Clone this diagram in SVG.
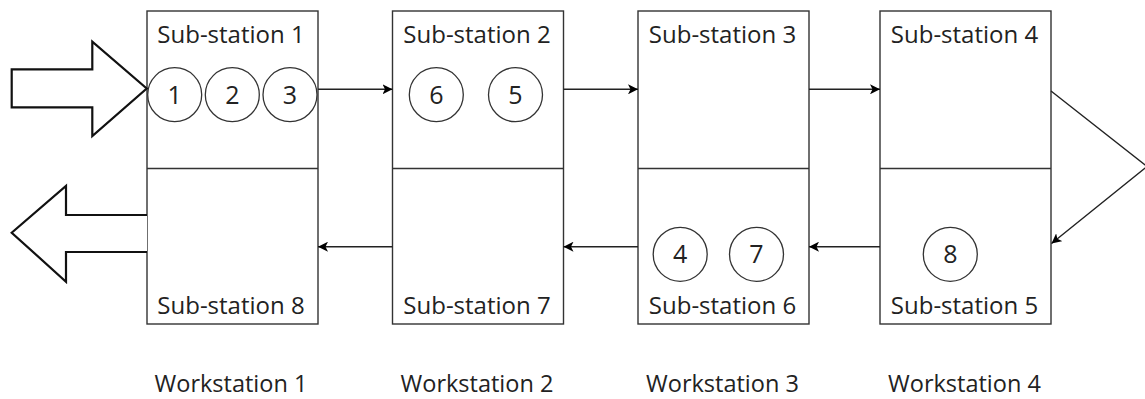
<svg xmlns="http://www.w3.org/2000/svg" width="1145" height="399" viewBox="0 0 1145 399">
<defs>
<marker id="ah" markerWidth="12" markerHeight="10" refX="10" refY="5" orient="auto" markerUnits="userSpaceOnUse">
<path d="M0,0 L10,5 L0,10 L2.5,5 Z" fill="#000"/>
</marker>
<style>
.box{fill:#fff;stroke:#333;stroke-width:1.4}
.div{stroke:#333;stroke-width:1.4}
.c{fill:#fff;stroke:#333;stroke-width:1.3}
.t{font-family:"Open Sans","Noto Sans",sans-serif;font-size:24px;fill:#222;text-anchor:middle}
.w{font-family:"Open Sans","Noto Sans",sans-serif;font-size:23.5px;fill:#222;text-anchor:middle}
.n{font-family:"Open Sans","Noto Sans",sans-serif;font-size:25px;fill:#222;text-anchor:middle}
.e{fill:none;stroke:#222;stroke-width:1.4;marker-end:url(#ah)}
.big{fill:#fff;stroke:#111;stroke-width:2.2;stroke-linejoin:miter}
</style>
</defs>
<rect width="1145" height="399" fill="#fff"/>

<g id="ws1">
<rect class="box" x="147" y="11" width="171" height="313"/>
<line class="div" x1="147" y1="168.5" x2="318" y2="168.5"/>
<text class="t" x="231" y="43">Sub-station 1</text>
<text class="t" x="231" y="313.5">Sub-station 8</text>
<text class="w" x="231" y="392">Workstation 1</text>
<circle class="c" cx="174.7" cy="94.7" r="27"/>
<text class="n" x="174.7" y="103.5">1</text>
<circle class="c" cx="232.3" cy="94.7" r="27"/>
<text class="n" x="232.3" y="103.5">2</text>
<circle class="c" cx="290" cy="94.7" r="27"/>
<text class="n" x="290" y="103.5">3</text>
</g>

<g id="ws2">
<rect class="box" x="392.5" y="11" width="171" height="313"/>
<line class="div" x1="392.5" y1="168.5" x2="563.5" y2="168.5"/>
<text class="t" x="477" y="43">Sub-station 2</text>
<text class="t" x="477" y="313.5">Sub-station 7</text>
<text class="w" x="477" y="392">Workstation 2</text>
<circle class="c" cx="436.3" cy="94.7" r="27"/>
<text class="n" x="436.3" y="103.5">6</text>
<circle class="c" cx="515.5" cy="94.7" r="27"/>
<text class="n" x="515.5" y="103.5">5</text>
</g>

<g id="ws3">
<rect class="box" x="638" y="11" width="171" height="313"/>
<line class="div" x1="638" y1="168.5" x2="809" y2="168.5"/>
<text class="t" x="722.5" y="43">Sub-station 3</text>
<text class="t" x="722.5" y="313.5">Sub-station 6</text>
<text class="w" x="722.5" y="392">Workstation 3</text>
<circle class="c" cx="680.2" cy="254.3" r="27"/>
<text class="n" x="680.2" y="263">4</text>
<circle class="c" cx="756.5" cy="254.3" r="27"/>
<text class="n" x="756.5" y="263">7</text>
</g>

<g id="ws4">
<rect class="box" x="880" y="11" width="171" height="313"/>
<line class="div" x1="880" y1="168.5" x2="1051" y2="168.5"/>
<text class="t" x="964.5" y="43">Sub-station 4</text>
<text class="t" x="964.5" y="313.5">Sub-station 5</text>
<text class="w" x="964.5" y="392">Workstation 4</text>
<circle class="c" cx="950.3" cy="254.3" r="27"/>
<text class="n" x="950.3" y="263">8</text>
</g>

<g id="io">
<path class="big" d="M11.7,69.3 L92.3,69.3 L92.3,41.7 L146.7,88.5 L92.3,136 L92.3,107.3 L11.7,107.3 Z"/>
<path class="big" d="M147,215 L66,215 L66,186 L11.7,232.7 L66,281.7 L66,252 L147,252"/>
</g>

<g id="connectors">
<line class="e" x1="318" y1="89.3" x2="392.5" y2="89.3"/>
<line class="e" x1="563.5" y1="89.3" x2="638" y2="89.3"/>
<line class="e" x1="809" y1="89.3" x2="880" y2="89.3"/>
<polyline class="e" points="1051,91 1147,166.5 1051.5,243.5"/>
<line class="e" x1="880" y1="246.7" x2="809" y2="246.7"/>
<line class="e" x1="638" y1="246.7" x2="563.5" y2="246.7"/>
<line class="e" x1="392.5" y1="246.7" x2="318" y2="246.7"/>
</g>
</svg>
